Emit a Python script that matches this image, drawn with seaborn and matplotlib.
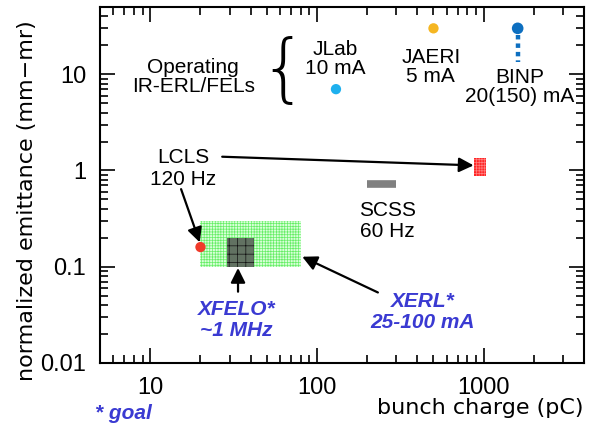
import matplotlib
matplotlib.use('Agg')

import matplotlib.pyplot as plt
import seaborn as sns
import pandas as pd
from matplotlib.patches import Rectangle
from matplotlib.ticker import LogLocator, NullFormatter, FixedLocator, FixedFormatter

# operating IR-ERL/FELs
op_names = ['JLab', 'JAERI', 'BINP']
op_charge = [130, 500, 1600]
op_emit = [7, 30, 30]
op_colors = ['#1eb0ee', '#f5b622', '#0d6fc0']
binp_emit_low = 13.5

# LCLS
lcls_dot_charge = 20
lcls_dot_emit = 0.16
lcls_box_charge = [870, 1030]
lcls_box_emit = [0.87, 1.36]

# SCSS
scss_charge = [200, 300]
scss_emit = 0.73

# XERL / XFELO goals
xerl_charge = [20, 80]
xerl_emit = [0.1, 0.3]
xfelo_charge = [29, 42]
xfelo_emit = [0.1, 0.2]

x_ticks = [10, 100, 1000]
x_ticklabels = ['10', '100', '1000']
y_ticks = [0.01, 0.1, 1, 10]
y_ticklabels = ['0.01', '0.1', '1', '10']

sns.set_style('ticks')
plt.rcParams['font.family'] = ['Liberation Sans', 'DejaVu Sans']
plt.rcParams['hatch.linewidth'] = 0.5
plt.rcParams['text.color'] = 'black'
plt.rcParams['xtick.labelcolor'] = 'black'
plt.rcParams['ytick.labelcolor'] = 'black'

fig = plt.figure(figsize=(5.89, 4.26), dpi=100)
ax = fig.add_axes([0.170, 0.148, 0.8215, 0.8356])
ax.set_xscale('log')
ax.set_yscale('log')
ax.set_xlim(5, 4000)
ax.set_ylim(0.01, 50)

blue = '#3a3ad2'

# goal boxes
ax.add_patch(Rectangle((xerl_charge[0], xerl_emit[0]), xerl_charge[1] - xerl_charge[0],
                       xerl_emit[1] - xerl_emit[0], facecolor='#d8ffd8', edgecolor='#66ee66',
                       hatch='++++++', lw=0, zorder=2))
ax.add_patch(Rectangle((xfelo_charge[0], xfelo_emit[0]), xfelo_charge[1] - xfelo_charge[0],
                       xfelo_emit[1] - xfelo_emit[0], facecolor='#627262', edgecolor='#111111',
                       hatch='++', lw=0, zorder=3))
ax.add_patch(Rectangle((lcls_box_charge[0], lcls_box_emit[0]), lcls_box_charge[1] - lcls_box_charge[0],
                       lcls_box_emit[1] - lcls_box_emit[0], facecolor='#ff2626', edgecolor='#ff8080',
                       hatch='++++++', lw=0, zorder=3))

# SCSS bar
ax.plot(scss_charge, [scss_emit, scss_emit], color='#808080', lw=5.5, solid_capstyle='butt', zorder=3)

# BINP dashed column
ax.plot([op_charge[2], op_charge[2]], [op_emit[2] * 0.85, binp_emit_low], color=op_colors[2],
        lw=3.2, dashes=(1.0, 0.9), dash_capstyle='butt', zorder=3)

# dots
dots = pd.DataFrame({'charge': op_charge + [lcls_dot_charge],
                     'emit': op_emit + [lcls_dot_emit],
                     'name': op_names + ['LCLS']})
sns.scatterplot(data=dots, x='charge', y='emit', hue='name',
                palette=op_colors + ['#f03a2a'], s=[55, 55, 70, 55],
                edgecolor='none', legend=False, ax=ax, zorder=4)
ax.set_xlabel('')
ax.set_ylabel('')

# labels
fs = 15
ax.text(18.1, 9.3, 'Operating\nIR-ERL/FELs', ha='center', va='center', fontsize=fs, linespacing=1.0)
ax.text(62.5, 10.5, '{', ha='center', va='center', fontsize=54, fontweight='light',
        family=['DejaVu Sans'])
ax.text(128, 14.3, 'JLab\n10 mA', ha='center', va='center', fontsize=fs, linespacing=1.0)
ax.text(482, 11.8, 'JAERI\n5 mA', ha='center', va='center', fontsize=fs, linespacing=1.0)
ax.text(1645, 7.3, 'BINP\n20(150) mA', ha='center', va='center', fontsize=fs, linespacing=1.0)
ax.text(15.8, 1.05, 'LCLS\n120 Hz', ha='center', va='center', fontsize=fs, linespacing=1.15)
ax.text(266, 0.30, 'SCSS\n60 Hz', ha='center', va='center', fontsize=fs, linespacing=1.15)
ax.text(33, 0.028, 'XFELO*\n~1 MHz', ha='center', va='center', fontsize=fs, color=blue,
        fontweight='bold', fontstyle='italic', linespacing=1.15)
ax.text(431, 0.034, 'XERL*\n25-100 mA', ha='center', va='center', fontsize=fs, color=blue,
        fontweight='bold', fontstyle='italic', linespacing=1.15)

# arrows
arw = dict(arrowstyle='-|>', mutation_scale=22, lw=1.6, color='black', shrinkA=0, shrinkB=0)
ax.annotate('', xy=(lcls_box_charge[0], 1.13), xytext=(27, 1.39), arrowprops=arw)
ax.annotate('', xy=(lcls_dot_charge * 0.99, lcls_dot_emit * 1.12), xytext=(15.3, 0.64), arrowprops=arw)
ax.annotate('', xy=(33.6, xfelo_emit[0] * 0.97), xytext=(33.6, 0.055), arrowprops=arw)
ax.annotate('', xy=(xerl_charge[1] * 1.02, 0.127), xytext=(232, 0.054), arrowprops=arw)

# axes styling
for s in ax.spines.values():
    s.set_linewidth(1.5)
    s.set_color('black')
ax.xaxis.set_major_locator(FixedLocator(x_ticks))
ax.xaxis.set_major_formatter(FixedFormatter(x_ticklabels))
ax.yaxis.set_major_locator(FixedLocator(y_ticks))
ax.yaxis.set_major_formatter(FixedFormatter(y_ticklabels))
ax.xaxis.set_minor_locator(LogLocator(base=10, subs=range(2, 10)))
ax.yaxis.set_minor_locator(LogLocator(base=10, subs=range(2, 10)))
ax.xaxis.set_minor_formatter(NullFormatter())
ax.yaxis.set_minor_formatter(NullFormatter())
ax.tick_params(which='both', direction='in', top=True, right=True, width=1.2, color='black',
               labelcolor='black')
ax.tick_params(which='major', length=11, labelsize=17, pad=10)
ax.tick_params(which='minor', length=6)

fig.text(0.9915, 0.042, 'bunch charge (pC)', ha='right', va='center', fontsize=16,
         family=['DejaVu Sans'], color='black')
fig.text(0.046, 0.53, 'normalized emittance (mm\u2212mr)', ha='center', va='center', fontsize=16,
         rotation=90, family=['DejaVu Sans'], color='black')
fig.text(0.161, 0.030, '* goal', ha='left', va='center', fontsize=fs, color=blue,
         fontweight='bold', fontstyle='italic')

fig.savefig('out.png', dpi=100)
